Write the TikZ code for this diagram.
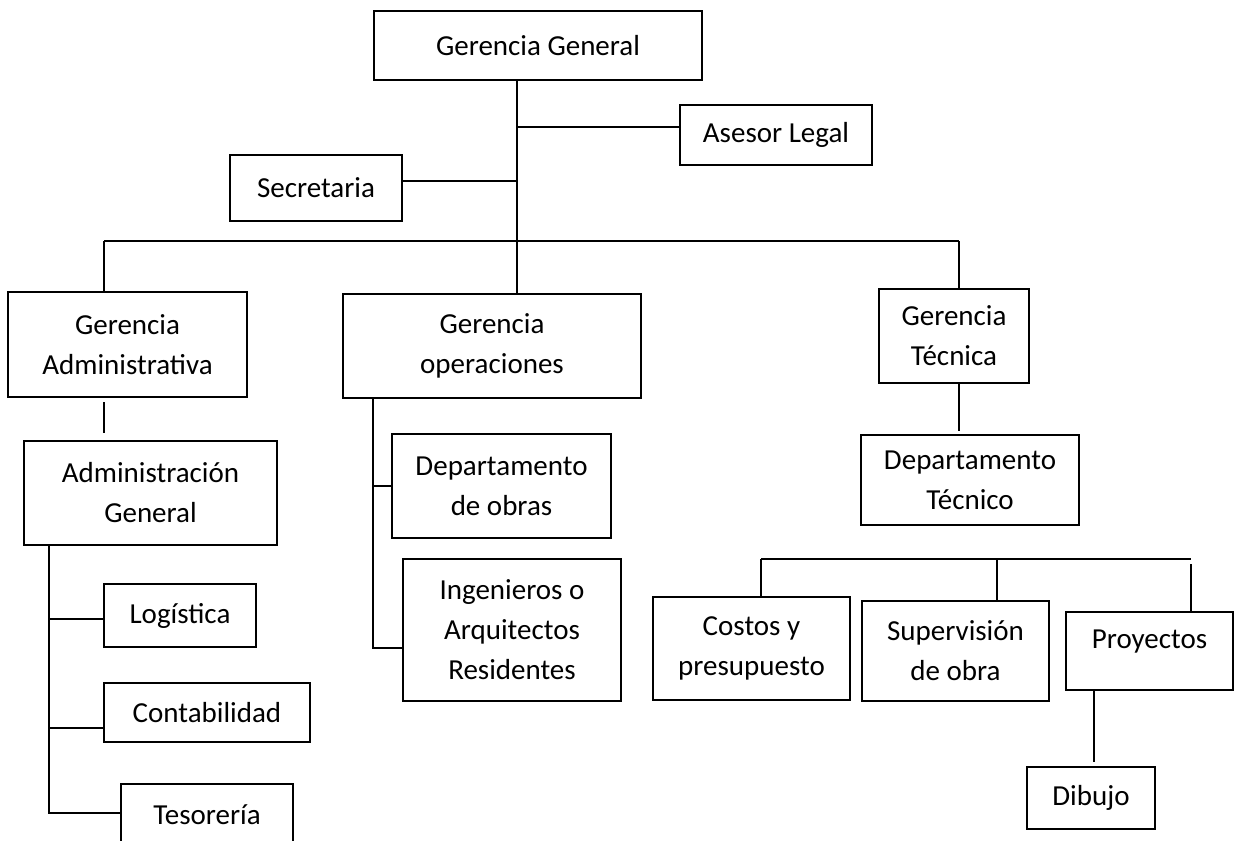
\documentclass[tikz,border=0pt]{standalone}
\usepackage{fontspec}
\setmainfont{Carlito}
\newcommand{\orgbox}[7][]{\node[box, minimum width={(#5-#3)*0.5pt}, minimum height={(#6-#4)*0.5pt}, #1] (#2) at ({(#3+#5)/2},{(#4+#6)/2}) {#7};}
\begin{document}
\begin{tikzpicture}[x=0.5pt,y=-0.5pt,
  txt/.style={font=\fontsize{14.5}{20}\selectfont},
  box/.style={draw, line width=1pt, inner sep=0pt, align=center, txt},
  conn/.style={line width=1pt},
  lbl/.style={txt, yshift=4.5pt}]
\useasboundingbox (0,0) rectangle (1238,841);
\clip (0,0) rectangle (1238,841);
\fill[white] (0,0) rectangle (1238,841);

% boxes
\orgbox{gg}{374}{11}{702}{80}{Gerencia General}
\orgbox{al}{680}{105}{872}{165}{Asesor Legal}
\orgbox{sec}{230}{155}{402}{221}{Secretaria}
\orgbox{ga}{8}{292}{247}{397}{Gerencia\\Administrativa}
\orgbox{go}{343}{294}{641}{398}{Gerencia\\operaciones}
\orgbox{gt}{879}{289}{1029}{383}{Gerencia\\Técnica}
\orgbox{ag}{24}{441}{277}{545}{Administración\\General}
\orgbox{dobras}{392}{434}{611}{538}{Departamento\\de obras}
\orgbox{ing}{403}{559}{621}{701}{Ingenieros o\\Arquitectos\\Residentes}
\orgbox{dt}{861}{435}{1079}{525}{Departamento\\Técnico}
\orgbox{log}{104}{584}{256}{647}{Logística}
\orgbox{cont}{104}{683}{310}{742}{Contabilidad}
\orgbox{tes}{121}{784}{293}{845}{Tesorería}
\orgbox{cos}{653}{597}{850}{700}{Costos y\\presupuesto}
\orgbox{sup}{862}{601}{1049}{701}{Supervisión\\de obra}
\orgbox[label={[lbl]center:Proyectos}]{proy}{1066}{612}{1233}{690}{}
\orgbox{dib}{1027}{767}{1155}{829}{Dibujo}

% junction coordinates
\coordinate (j0) at (517,241);
\coordinate (ja) at (517,127);
\coordinate (js) at (517,181);
\coordinate (hl) at (104,241);
\coordinate (hr) at (959,241);
\coordinate (av) at (49,813);
\coordinate (av1) at (49,619);
\coordinate (av2) at (49,728);
\coordinate (gv) at (373,648);
\coordinate (gv1) at (373,486);
\coordinate (tl) at (761,559);
\coordinate (tm) at (997,559);
\coordinate (tr) at (1191,559);
\coordinate (pd) at (1094,700);

% connectors
\draw[conn] (gg.south -| j0) -- (j0);
\draw[conn] (ja) -- (al.west |- ja);
\draw[conn] (sec.east |- js) -- (js);
\draw[conn] (hl) -- (hr);
\draw[conn] (hl) -- (ga.north -| hl);
\draw[conn] (j0) -- (go.north -| j0);
\draw[conn] (hr) -- (gt.north -| hr);
\draw[conn, shorten <=2pt, shorten >=3.5pt] (ga.south -| hl) -- (ag.north -| hl);
\draw[conn] (ag.south -| av) -- (av) -- (tes.west |- av);
\draw[conn] (av1) -- (log.west |- av1);
\draw[conn] (av2) -- (cont.west |- av2);
\draw[conn] (go.south -| gv) -- (gv) -- (ing.west |- gv);
\draw[conn] (gv1) -- (dobras.west |- gv1);
\draw[conn, shorten >=1.5pt] (gt.south -| hr) -- (dt.north -| hr);
\draw[conn] (tl) -- (tr);
\draw[conn] (tl) -- (cos.north -| tl);
\draw[conn] (tm) -- (sup.north -| tm);
\draw[conn, shorten <=2.5pt] (tr) -- (proy.north -| tr);
\draw[conn, shorten >=2pt] (proy.south -| pd) -- (dib.north -| pd);
\end{tikzpicture}
\end{document}
